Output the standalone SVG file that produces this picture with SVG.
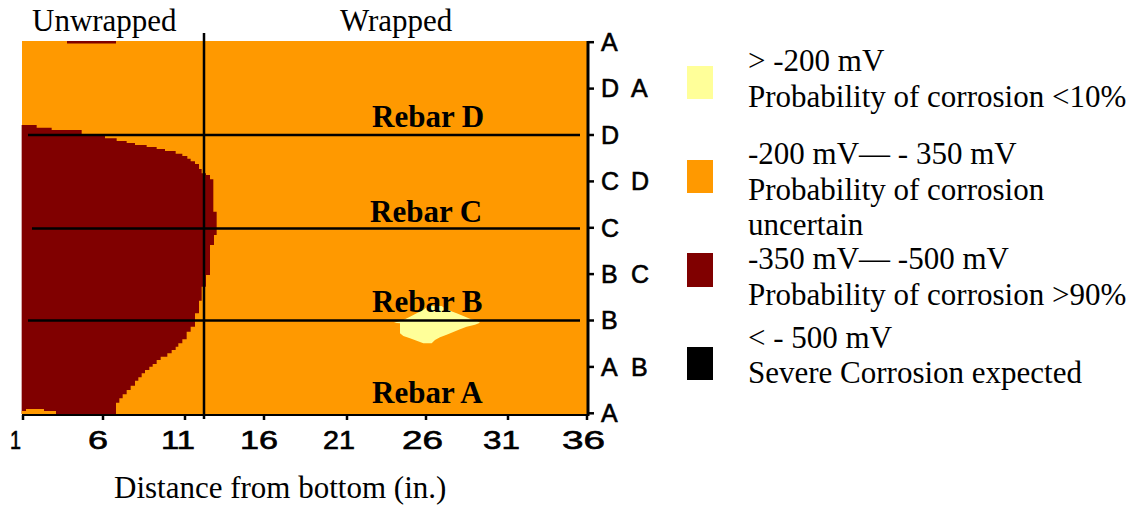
<svg xmlns="http://www.w3.org/2000/svg" width="1140" height="508" viewBox="0 0 1140 508">
<style>
.serif{font-family:"Liberation Serif","Times New Roman",serif;font-size:31px;fill:#000}
.bold{font-weight:bold}
.piy{font-family:"Liberation Sans",Arial,sans-serif;font-size:25px;fill:#000;stroke:#000;stroke-width:0.6}
.ln{stroke:#000;stroke-width:2.5;fill:none}
.tk{stroke:#000;stroke-width:2.5}
</style>
<rect width="1140" height="508" fill="#fff"/>
<g id="map">
<rect x="22" y="41" width="565" height="373" fill="#FF9900"/>
<path transform="translate(0 120) scale(0.33333)" fill="#800000" d="M65,15 H110 V23 H155 V30 H245 V45 H315 V55 H350 V63 H380 V69 H405 V75 H440 V81 H470 V87 H495 V93 H527 V101 H547 V108 H562 V116 H572 V124 H585 V132 H597 V147 H605 V160 H618 V165 H630 V178 H640 V275 H650 V345 H642 V375 H630 V465 H618 V500 H605 V542 H597 V580 H585 V620 H572 V635 H560 V658 H547 V670 H535 V680 H527 V690 H515 V700 H502 V710 H482 V720 H470 V732 H458 V740 H448 V750 H435 V760 H425 V772 H415 V782 H405 V797 H392 V810 H380 V823 H368 V835 H358 V848 H348 V882 H65 Z"/>
<path transform="translate(0 120) scale(0.33333)" fill="#FF9900" d="M65,873 H78 V867 H132 V873 H168 V882 H65 Z"/>
<rect x="67" y="41" width="49" height="2.5" fill="#800000"/>
<path transform="translate(360 290) scale(0.33333)" fill="#FFFF99" d="M210,48 L245,48 L255,55 L270,62 L290,70 L310,78 L330,86 L350,92 L360,98 L345,104 L320,110 L300,118 L280,126 L260,134 L240,142 L225,150 L215,160 L190,160 L170,152 L150,145 L130,138 L120,130 L120,100 L102,98 L130,90 L150,80 L170,70 L190,60 L200,52 Z"/>
</g>
<g id="connectors">
<line class="ln" x1="28" y1="135" x2="580" y2="135"/>
<line class="ln" x1="32" y1="228.5" x2="580" y2="228.5"/>
<line class="ln" x1="28" y1="320.5" x2="580" y2="320.5"/>
<line class="ln" x1="204" y1="33" x2="204" y2="419"/>
</g>
<g id="axes">
<line x1="22" y1="415" x2="589" y2="415" stroke="#000" stroke-width="2.2"/>
<line x1="588" y1="41" x2="588" y2="416" stroke="#000" stroke-width="3"/>
<g class="tk">
<line x1="23" y1="415" x2="23" y2="420"/>
<line x1="103" y1="415" x2="103" y2="420"/>
<line x1="185" y1="415" x2="185" y2="420"/>
<line x1="264" y1="415" x2="264" y2="420"/>
<line x1="347" y1="415" x2="347" y2="420"/>
<line x1="426" y1="415" x2="426" y2="420"/>
<line x1="508" y1="415" x2="508" y2="420"/>
<line x1="587" y1="415" x2="587" y2="420"/>
<line x1="588" y1="42.2" x2="594" y2="42.2"/>
<line x1="588" y1="88.6" x2="594" y2="88.6"/>
<line x1="588" y1="135" x2="594" y2="135"/>
<line x1="588" y1="181.4" x2="594" y2="181.4"/>
<line x1="588" y1="227.8" x2="594" y2="227.8"/>
<line x1="588" y1="274.1" x2="594" y2="274.1"/>
<line x1="588" y1="320.5" x2="594" y2="320.5"/>
<line x1="588" y1="366.9" x2="594" y2="366.9"/>
<line x1="588" y1="413.3" x2="594" y2="413.3"/>
</g>
<g id="xlabels" class="piy">
<text x="10" y="449" textLength="11" lengthAdjust="spacingAndGlyphs">1</text>
<text x="88" y="449" textLength="20" lengthAdjust="spacingAndGlyphs">6</text>
<text x="161" y="449" textLength="34" lengthAdjust="spacingAndGlyphs">11</text>
<text x="240" y="449" textLength="38" lengthAdjust="spacingAndGlyphs">16</text>
<text x="323" y="449" textLength="32" lengthAdjust="spacingAndGlyphs">21</text>
<text x="402" y="449" textLength="41" lengthAdjust="spacingAndGlyphs">26</text>
<text x="483" y="449" textLength="37" lengthAdjust="spacingAndGlyphs">31</text>
<text x="562" y="449" textLength="43" lengthAdjust="spacingAndGlyphs">36</text>
</g>
<g id="ylabels" class="piy">
<text y="51"><tspan x="601">A</tspan></text>
<text y="97.4"><tspan x="601">D</tspan><tspan x="631">A</tspan></text>
<text y="143.8"><tspan x="601">D</tspan></text>
<text y="190.2"><tspan x="601">C</tspan><tspan x="631">D</tspan></text>
<text y="236.6"><tspan x="601">C</tspan></text>
<text y="282.9"><tspan x="601">B</tspan><tspan x="631">C</tspan></text>
<text y="329.3"><tspan x="601">B</tspan></text>
<text y="375.7"><tspan x="601">A</tspan><tspan x="631">B</tspan></text>
<text y="422.1"><tspan x="601">A</tspan></text>
</g>
</g>
<g id="titles" class="serif">
<text x="32" y="31">Unwrapped</text>
<text x="340" y="31">Wrapped</text>
<text x="114" y="498">Distance from bottom (in.)</text>
</g>
<g id="rebar-labels" class="serif bold">
<text x="372" y="127">Rebar D</text>
<text x="370" y="222">Rebar C</text>
<text x="372" y="312">Rebar B</text>
<text x="372" y="403">Rebar A</text>
</g>
<g id="legend">
<rect x="687" y="66" width="26" height="33" fill="#FFFF99"/>
<rect x="687" y="160" width="26" height="33" fill="#FF9900"/>
<rect x="687" y="253" width="26" height="34" fill="#800000"/>
<rect x="687" y="347" width="26" height="33" fill="#000"/>
<g class="serif">
<text x="748" y="71">&gt; -200 mV</text>
<text x="748" y="107">Probability of corrosion &lt;10%</text>
<text x="748" y="164">-200 mV— - 350 mV</text>
<text x="748" y="200">Probability of corrosion</text>
<text x="748" y="235">uncertain</text>
<text x="748" y="269">-350 mV— -500 mV</text>
<text x="748" y="305">Probability of corrosion &gt;90%</text>
<text x="748" y="348">&lt; - 500 mV</text>
<text x="748" y="383">Severe Corrosion expected</text>
</g>
</g>
</svg>
